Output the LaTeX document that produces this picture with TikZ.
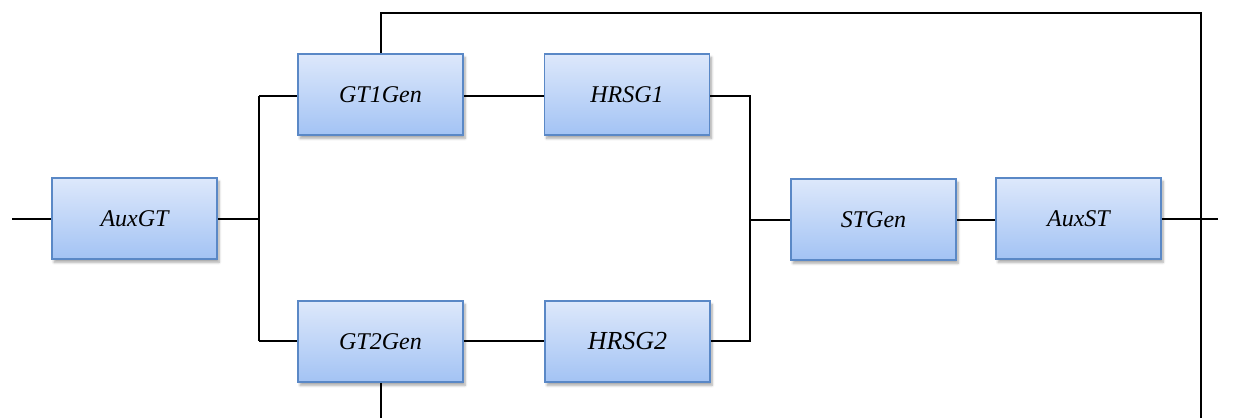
\documentclass[tikz,border=0pt]{standalone}
\usepackage{fontspec}
\setmainfont{Liberation Serif}
\usetikzlibrary{shadows.blur}
\definecolor{boxedge}{HTML}{5A88C6}
\definecolor{boxtop}{HTML}{DDE8FB}
\definecolor{boxbot}{HTML}{A3C3F4}
\tikzset{
  blk/.style={draw=boxedge, line width=1.4pt, minimum width=165*0.75pt, minimum height=81*0.75pt,
    inner sep=0pt, top color=boxtop, bottom color=boxbot,
    blur shadow={shadow xshift=1.5pt, shadow yshift=-2.5pt, shadow blur steps=6, shadow opacity=35},
    font=\fontsize{18}{20}\selectfont\itshape},
  wire/.style={line width=1.5pt, black}
}
\begin{document}
\begin{tikzpicture}[x=0.75pt, y=-0.75pt]
\useasboundingbox (0,0) rectangle (1233,418);
% blocks
\node[blk] (auxgt) at (134.5,218.5) {AuxGT};
\node[blk] (gt1) at (380.5,94.5) {GT1Gen};
\node[blk] (hrsg1) at (627,94.5) {HRSG1};
\node[blk] (gt2) at (380.5,341.5) {GT2Gen};
\node[blk, font=\fontsize{19.5}{21}\selectfont\itshape] (hrsg2) at (627.5,341.5) {HRSG2};
\node[blk] (stgen) at (873.5,219.5) {STGen};
\node[blk] (auxst) at (1078.5,218.5) {AuxST};
% junction and terminal points
\coordinate (in) at (12,218.5);
\coordinate (out) at (1218,218.5);
\coordinate (ja) at (259,218.5);
\coordinate (ja1) at (259,96);
\coordinate (ja2) at (259,341);
\coordinate (jb1) at (750,96);
\coordinate (jb2) at (750,341);
\coordinate (jb) at (750,219.5);
\coordinate (tl) at (381,13);
\coordinate (tr) at (1201,13);
\coordinate (br) at (1201,418);
\coordinate (bl) at (381,418);
% wiring
\draw[wire] (in) -- (auxgt.west);
\draw[wire] (auxgt.east) -- (ja);
\draw[wire] (ja1) -- (ja2);
\draw[wire] (ja1) -- (gt1.west |- ja1);
\draw[wire] (ja2) -- (gt2.west |- ja2);
\draw[wire] (gt1.east |- ja1) -- (hrsg1.west |- ja1);
\draw[wire] (gt2.east |- ja2) -- (hrsg2.west |- ja2);
\draw[wire] (hrsg1.east |- jb1) -- (jb1) -- (jb2) -- (hrsg2.east |- jb2);
\draw[wire] (jb) -- (stgen.west);
\draw[wire] (stgen.east) -- (auxst.west |- stgen.east);
\draw[wire] (auxst.east |- out) -- (out);
\draw[wire] (gt1.north -| tl) -- (tl) -- (tr) -- (br);
\draw[wire] (gt2.south -| bl) -- (bl);
\end{tikzpicture}
\end{document}
